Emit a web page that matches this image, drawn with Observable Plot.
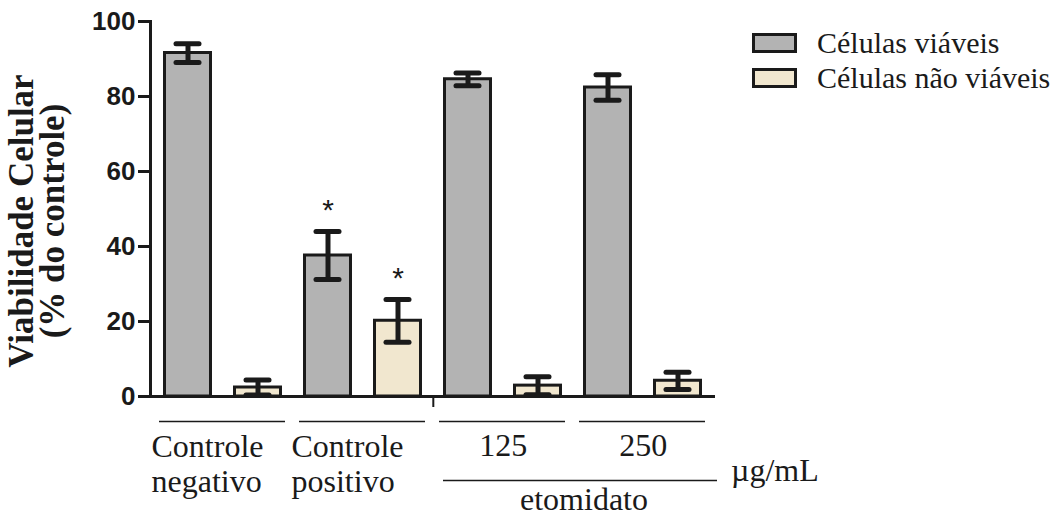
<!DOCTYPE html>
<html><head><meta charset="utf-8">
<script src="https://cdn.jsdelivr.net/npm/d3@7"></script>
<script src="https://cdn.jsdelivr.net/npm/@observablehq/plot@0.6"></script>
<style>
body{margin:0;background:#fff;}
#wrap{position:relative;width:1064px;height:518px;}
#legend{position:absolute;left:752px;top:25px;font-family:"Liberation Serif",serif;font-size:30px;color:#1a1a1a;}
.row{display:flex;align-items:center;height:35px;white-space:nowrap;}
.sw{width:39px;height:14px;border:3px solid #1a1a1a;margin-right:20px;box-sizing:content-box;}
</style></head><body><div id="wrap"><div id="legend"></div></div>
<script>
// ---- data ----
const groups = ["Controle\nnegativo", "Controle\npositivo", "125", "250"];
const series = ["Células viáveis", "Células não viáveis"];
const colors = ["#b3b3b3", "#f1e7cf"];
const viaveis = [91.6, 37.6, 84.6, 82.4];
const viaveisErr = [2.5, 6.4, 1.7, 3.4];
const naoViaveis = [2.4, 20.2, 2.9, 4.2];
const naoViaveisErr = [2.0, 5.7, 2.4, 2.3];
const viaveisSig = [false, true, false, false];
const naoViaveisSig = [false, true, false, false];
const yTicks = [0, 20, 40, 60, 80, 100];
const yTitle = "Viabilidade Celular\n(% do controle)";
const drugLabel = "etomidato";
const unitLabel = "µg/mL";

// ---- table ----
const rows = [];
groups.forEach((g, i) => {
  series.forEach((s, j) => {
    const v = j === 0 ? viaveis[i] : naoViaveis[i];
    const e = j === 0 ? viaveisErr[i] : naoViaveisErr[i];
    const sig = j === 0 ? viaveisSig[i] : naoViaveisSig[i];
    rows.push({key: g + "|" + s, group: g, series: s, value: v, lo: v - e, hi: v + e, sig});
  });
});
const keys = rows.map(d => d.key);
const groupInfo = groups.map(g => ({label: g, k1: g + "|" + series[0], k2: g + "|" + series[1]}));
const controlGroups = groupInfo.slice(0, 2);
const doseGroups = groupInfo.slice(2);

const W = 1064, H = 518, mL = 150, mR = 349, mT = 21, mB = 122;
const step = (W - mL - mR) / keys.length;
const ink = "#1a1a1a";
const serif = "Liberation Serif";

const plot = Plot.plot({
  width: W, height: H,
  marginLeft: mL, marginRight: mR, marginTop: mT, marginBottom: mB,
  style: {fontFamily: serif, background: "white", color: ink},
  x: {type: "band", domain: keys, paddingInner: 0.305, paddingOuter: 0.1525, axis: null},
  y: {domain: [0, 100], axis: null},
  color: {domain: series, range: colors},
  marks: [
    Plot.axisY({ticks: yTicks, tickSize: 12, tickPadding: 3, strokeWidth: 3, fontSize: 26, fontWeight: "bold", fontFamily: "Liberation Sans", label: null, stroke: ink, fill: ink}),
    Plot.barY(rows, {x: "key", y: "value", fill: "series", stroke: ink, strokeWidth: 3, insetLeft: 1.5, insetRight: 1.5}),
    Plot.ruleX(rows, {x: "key", y1: "lo", y2: "hi", strokeWidth: 5, stroke: ink}),
    Plot.tickY(rows, {x: "key", y: "lo", strokeWidth: 5, stroke: ink, strokeLinecap: "round", insetLeft: 13, insetRight: 13}),
    Plot.tickY(rows, {x: "key", y: "hi", strokeWidth: 5, stroke: ink, strokeLinecap: "round", insetLeft: 13, insetRight: 13}),
    Plot.text(rows.filter(d => d.sig), {x: "key", y: "hi", text: () => "*", fontSize: 30, fontFamily: "Liberation Sans", dy: -21, fill: ink}),
    Plot.frame({anchor: "left", strokeWidth: 3, stroke: ink}),
    Plot.ruleY([0], {strokeWidth: 3, stroke: ink}),
    // boundary tick between controls and etomidato groups
    Plot.ruleX([groupInfo[1].k2], {x: d => d, y1: 0, y2: 0, dx: step / 2, insetBottom: -11, strokeWidth: 2, stroke: ink}),
    // group underlines
    Plot.ruleY(groupInfo, {x1: "k1", x2: "k2", y: () => 0, dy: 25, insetLeft: -4, insetRight: -3, strokeWidth: 1.5, stroke: ink}),
    // group labels
    Plot.text(controlGroups, {x: "k1", y: () => 0, text: "label", dx: -36.5, dy: 35, textAnchor: "start", lineAnchor: "top", lineHeight: 1.1, fontSize: 32, fill: ink}),
    Plot.text(doseGroups, {x: "k1", y: () => 0, text: "label", dx: step / 2, dy: 37, lineAnchor: "top", fontSize: 32, fill: ink}),
    // etomidato line + label
    Plot.ruleY([drugLabel], {x1: () => groupInfo[2].k1, x2: () => groupInfo[3].k2, y: () => 0, dy: 84, insetRight: -15, strokeWidth: 1.5, stroke: ink}),
    Plot.text([drugLabel], {x: () => groupInfo[3].k1, y: () => 0, text: d => d, dx: -24, dy: 91, lineAnchor: "top", fontSize: 32, fill: ink}),
    Plot.text([unitLabel], {x: () => groupInfo[3].k2, y: () => 0, text: d => d, dx: 53, dy: 62, lineAnchor: "top", textAnchor: "start", fontSize: 32, fill: ink}),
    // y title
    Plot.text([yTitle], {frameAnchor: "left", textAnchor: "middle", text: d => d, rotate: -90, dx: -112, dy: 12, fontSize: 35, fontWeight: "bold", lineHeight: 0.88, fill: ink})
  ]
});
document.getElementById("wrap").prepend(plot);

const legend = document.getElementById("legend");
series.forEach((s, i) => {
  const row = document.createElement("div");
  row.className = "row";
  const sw = document.createElement("div");
  sw.className = "sw";
  sw.style.background = colors[i];
  const t = document.createElement("span");
  t.textContent = s;
  row.append(sw, t);
  legend.append(row);
});
</script>
</body></html>
